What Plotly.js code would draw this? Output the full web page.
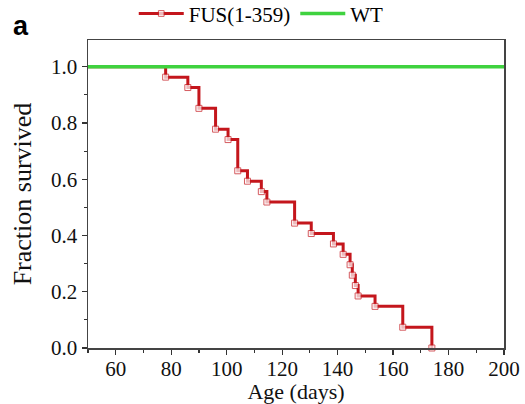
<!DOCTYPE html>
<html>
<head>
<meta charset="utf-8">
<script src="https://cdn.plot.ly/plotly-3.0.1.min.js"></script>
<style>html,body{margin:0;padding:0;background:#fff;}#chart{width:525px;height:404px;}</style>
</head>
<body>
<div id="chart"></div>
<script>
// Kaplan-Meier style survival data
var fusDays = [50, 78, 86, 90, 96, 100.5, 104, 107.5, 112.5, 114.5, 124.5, 130.5, 138.5, 142, 144.5, 145.3, 146.4, 147.4, 153.5, 163.5, 174];
var fusSurvival = [1.0, 0.963, 0.926, 0.852, 0.778, 0.741, 0.630, 0.593, 0.556, 0.519, 0.444, 0.407, 0.370, 0.333, 0.296, 0.259, 0.222, 0.185, 0.148, 0.074, 0.0];
var wtDays = [50, 200];
var wtSurvival = [1.0, 1.0];
var xTickVals = [60, 80, 100, 120, 140, 160, 180, 200];
var yTickVals = [0.0, 0.2, 0.4, 0.6, 0.8, 1.0];

var serif = 'Liberation Serif, Times New Roman, serif';
var markerSizes = fusDays.map(function (d, i) { return i === 0 ? 0 : 6; });

var traces = [
  {
    x: fusDays, y: fusSurvival, name: 'FUS(1-359)', type: 'scatter', mode: 'lines+markers',
    line: {shape: 'hv', color: '#c4161c', width: 3},
    marker: {symbol: 'square', size: markerSizes, color: '#ffffff', line: {color: '#c4161c', width: 1}},
    cliponaxis: false
  },
  {
    x: wtDays, y: wtSurvival, name: 'WT', type: 'scatter', mode: 'lines',
    line: {color: '#3fd23f', width: 3.5}
  }
];

var layout = {
  width: 525, height: 404,
  margin: {l: 88, r: 21, t: 40, b: 56, autoexpand: false},
  paper_bgcolor: '#fff', plot_bgcolor: '#fff',
  showlegend: true,
  legend: {orientation: 'h', x: 0.11, xanchor: 'left', y: 1.085, yanchor: 'middle',
           font: {family: serif, size: 21, color: '#000'}, itemwidth: 45, tracegroupgap: 0,
           bgcolor: 'rgba(0,0,0,0)'},
  xaxis: {
    range: [50, 200], tickvals: xTickVals, ticks: 'outside', ticklen: 5, tickwidth: 1.2, tickcolor: '#333',
    showline: true, linecolor: '#444', linewidth: 1.5, mirror: true, showgrid: false, zeroline: false,
    automargin: false, ticklabelstandoff: -4,
    tickfont: {family: serif, size: 21, color: '#111'},
    minor: {dtick: 10, tick0: 50, ticks: 'outside', ticklen: 3, tickcolor: '#333', showgrid: false},
    title: {text: 'Age (days)', font: {family: serif, size: 22, color: '#111'}, standoff: 2}
  },
  yaxis: {
    range: [0, 1.095], tickvals: yTickVals, tickformat: '.1f', ticks: 'outside', ticklen: 5, tickwidth: 1.2, tickcolor: '#333',
    showline: true, linecolor: '#444', linewidth: 1.5, mirror: true, showgrid: false, zeroline: false,
    automargin: false,
    tickfont: {family: serif, size: 21, color: '#111'},
    minor: {dtick: 0.1, tick0: 0, ticks: 'outside', ticklen: 3, tickcolor: '#333', showgrid: false},
    title: {text: 'Fraction survived', font: {family: serif, size: 26, color: '#111'}, standoff: 12}
  },
  annotations: [
    {text: '<b>a</b>', xref: 'paper', yref: 'paper', x: -0.185, y: 0.99, xanchor: 'left', yanchor: 'bottom',
     showarrow: false, font: {family: 'Liberation Sans, Arial, sans-serif', size: 27, color: '#000'}}
  ]
};

Plotly.newPlot('chart', traces, layout, {displayModeBar: false, staticPlot: true});
</script>
</body>
</html>
